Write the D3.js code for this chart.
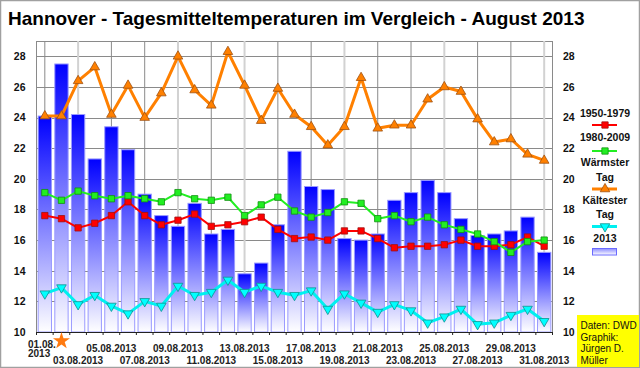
<!DOCTYPE html>
<html>
<head>
<meta charset="utf-8">
<script src="https://cdn.jsdelivr.net/npm/d3@7"></script>
<style>
  html, body { margin: 0; padding: 0; background: #fff; }
  svg { display: block; font-family: "Liberation Sans", Arial, sans-serif; }
</style>
</head>
<body>
<svg id="chart" width="640" height="368"></svg>
<script>
// ---------------- data ----------------
const dateLabels = ["01.08.2013","02.08.2013","03.08.2013","04.08.2013","05.08.2013","06.08.2013","07.08.2013","08.08.2013","09.08.2013","10.08.2013","11.08.2013","12.08.2013","13.08.2013","14.08.2013","15.08.2013","16.08.2013","17.08.2013","18.08.2013","19.08.2013","20.08.2013","21.08.2013","22.08.2013","23.08.2013","24.08.2013","25.08.2013","26.08.2013","27.08.2013","28.08.2013","29.08.2013","30.08.2013","31.08.2013"];
const values2013 = [24.1,27.5,24.2,21.3,23.4,21.9,19.0,17.6,16.9,18.4,16.4,16.7,13.8,14.5,17.0,21.8,19.5,19.3,16.1,16.0,16.4,18.6,19.1,19.9,19.1,17.4,16.3,16.4,16.6,17.5,15.2];
const mean1950 = [17.6,17.4,16.8,17.1,17.6,18.5,17.6,17.0,17.3,17.7,16.9,17.0,17.2,17.5,16.7,16.1,16.2,16.0,16.6,16.6,16.1,15.5,15.6,15.6,15.7,16.0,15.6,15.6,15.7,16.2,15.6];
const mean1980 = [19.1,18.6,19.2,18.9,18.7,18.9,18.7,18.5,19.1,18.7,18.6,18.8,17.6,18.3,18.8,17.9,17.5,17.8,18.5,18.4,17.4,17.6,17.2,17.5,17.0,16.7,16.4,15.9,15.2,15.9,16.0];
const warmest = [24.1,24.1,26.4,27.3,24.2,26.1,24.0,25.6,28.0,25.8,24.8,28.3,26.1,23.8,25.9,24.2,23.4,22.2,23.4,26.6,23.3,23.5,23.5,25.2,26.0,25.7,23.9,22.4,22.6,21.6,21.2];
const coldest = [12.5,12.9,11.8,12.4,11.7,11.2,12.0,11.7,13.0,12.4,12.6,13.4,12.6,13.0,12.6,12.4,12.7,11.5,12.5,11.9,11.3,11.8,11.4,10.6,11.0,11.5,10.5,10.6,11.1,11.5,10.7];
const yTicks = [10,12,14,16,18,20,22,24,26,28];
const legendLabels = [["1950-1979"],["1980-2009"],["Wärmster","Tag"],["Kältester","Tag"],["2013"]];
const creditLines = ["Daten: DWD","Graphik:","Jürgen D.","Müller"];
const titleText = "Hannover - Tagesmitteltemperaturen im Vergleich - August 2013";
const starDay = "02.08.2013";

// ---------------- layout ----------------
const W = 640, H = 368;
const plot = {left: 36.5, right: 552.5, top: 41, bottom: 332};
const svg = d3.select("#chart");

const x = d3.scaleBand().domain(dateLabels).range([plot.left, plot.right]).paddingInner(0.2).paddingOuter(0.1);
const xc = d => x(d) + x.bandwidth() / 2;
const band = (plot.right - plot.left) / dateLabels.length;
const y = d3.scaleLinear().domain([10, 29]).range([plot.bottom, plot.top]);

// background + outer border
svg.append("rect").attr("x", 0.5).attr("y", 0.5).attr("width", W - 1).attr("height", H - 1)
  .attr("fill", "#fff").attr("stroke", "#a0a0a0").attr("stroke-width", 1.5);

// title
svg.append("text").attr("x", 8).attr("y", 25).text(titleText)
  .attr("font-size", 19).attr("font-weight", "bold").attr("fill", "#000");

// defs: gradients
const defs = svg.append("defs");
const g1 = defs.append("linearGradient").attr("id", "barGrad").attr("x1", 0).attr("y1", 0).attr("x2", 0).attr("y2", 1);
g1.append("stop").attr("offset", "0%").attr("stop-color", "#0000ff");
g1.append("stop").attr("offset", "100%").attr("stop-color", "#ffffff");
const g2 = defs.append("linearGradient").attr("id", "legGrad").attr("x1", 0).attr("y1", 0).attr("x2", 0).attr("y2", 1);
g2.append("stop").attr("offset", "0%").attr("stop-color", "#8c8cff");
g2.append("stop").attr("offset", "100%").attr("stop-color", "#ffffff");

// horizontal grid
svg.append("g").selectAll("line").data(yTicks.concat([29])).join("line")
  .attr("x1", plot.left).attr("x2", plot.right)
  .attr("y1", d => Math.round(y(d)) + 0.5).attr("y2", d => Math.round(y(d)) + 0.5)
  .attr("stroke", "#8a8a8a").attr("stroke-width", 1);

// vertical grid at odd days
const lightDays = new Set([2, 8, 12, 18, 24, 30]); // indices drawn as light broad lines
svg.append("g").selectAll("line").data(dateLabels.filter((d, i) => i % 2 === 0)).join("line")
  .attr("x1", d => xc(d)).attr("x2", d => xc(d))
  .attr("y1", plot.top).attr("y2", plot.bottom)
  .attr("stroke", d => lightDays.has(dateLabels.indexOf(d)) ? "#d2d2d2" : "#8a8a8a")
  .attr("stroke-width", d => lightDays.has(dateLabels.indexOf(d)) ? 2 : 1);

// plot frame (left/right)
svg.append("line").attr("x1", plot.left).attr("x2", plot.left).attr("y1", plot.top).attr("y2", plot.bottom).attr("stroke", "#8a8a8a");
svg.append("line").attr("x1", plot.right).attr("x2", plot.right).attr("y1", plot.top).attr("y2", plot.bottom).attr("stroke", "#8a8a8a");

// bars
svg.append("g").selectAll("rect").data(values2013).join("rect")
  .attr("x", (d, i) => x(dateLabels[i]))
  .attr("width", x.bandwidth())
  .attr("y", d => y(d))
  .attr("height", d => plot.bottom - y(d))
  .attr("fill", "url(#barGrad)")
  .attr("stroke", "#9a9aff").attr("stroke-width", 1);

// x axis line + ticks
svg.append("line").attr("x1", plot.left).attr("x2", plot.right).attr("y1", plot.bottom + 0.5).attr("y2", plot.bottom + 0.5).attr("stroke", "#222");
svg.append("g").selectAll("line").data(d3.range(dateLabels.length + 1)).join("line")
  .attr("x1", i => plot.left + i * band).attr("x2", i => plot.left + i * band)
  .attr("y1", plot.bottom).attr("y2", plot.bottom + 3).attr("stroke", "#222");

// y axes
const leftAxis = d3.axisLeft(y).tickValues(yTicks).tickSize(0).tickPadding(11).tickFormat(d3.format("d"));
const rightAxis = d3.axisRight(y).tickValues(yTicks).tickSize(0).tickPadding(10.5).tickFormat(d3.format("d"));
const la = svg.append("g").attr("transform", `translate(${plot.left},0)`).call(leftAxis);
const ra = svg.append("g").attr("transform", `translate(${plot.right},0)`).call(rightAxis);
[la, ra].forEach(a => {
  a.select(".domain").remove();
  a.selectAll("text").attr("font-size", 10.5).attr("font-weight", "bold").attr("fill", "#111")
    .attr("font-family", "Liberation Sans, Arial, sans-serif");
});

// x labels
const xl = svg.append("g").attr("font-size", 10).attr("font-weight", "bold").attr("fill", "#222");
dateLabels.forEach((d, i) => {
  if (i % 2 !== 0) return;
  if (i === 0) {
    xl.append("text").attr("x", 28).attr("y", 347.5).text(d.slice(0, 6));
    xl.append("text").attr("x", 28).attr("y", 357).text(d.slice(6));
    return;
  }
  const row = (i / 2) % 2;
  xl.append("text").attr("x", xc(d)).attr("y", row === 1 ? 364 : 352)
    .attr("text-anchor", "middle").text(d);
});

// star
const star = d3.symbol().type(d3.symbolStar).size(90);
svg.append("path").attr("d", star()).attr("transform", `translate(${xc(starDay)},341)`)
  .attr("fill", "#ff7a10");

// lines
const lineGen = d3.line().x((d, i) => xc(dateLabels[i])).y(d => y(d));
function series(data, color, width, sym, symSize, fill, stroke, rot) {
  const g = svg.append("g");
  g.append("path").datum(data).attr("d", lineGen).attr("fill", "none")
    .attr("stroke", color).attr("stroke-width", width).attr("stroke-linejoin", "round");
  g.selectAll("path.m").data(data).join("path").attr("class", "m")
    .attr("d", d3.symbol().type(sym).size(symSize)())
    .attr("transform", (d, i) => `translate(${xc(dateLabels[i])},${y(d)}) rotate(${rot})`)
    .attr("fill", fill).attr("stroke", stroke).attr("stroke-width", 0.8);
}
series(mean1950, "#ff0000", 2, d3.symbolSquare, 40, "#ff0000", "#a01010", 0);
series(mean1980, "#22ee22", 2, d3.symbolSquare, 40, "#22ee22", "#109010", 0);
series(warmest, "#ff8000", 3, d3.symbolTriangle, 40, "#ff8000", "#a05010", 0);
series(coldest, "#00f0f0", 3, d3.symbolTriangle, 40, "#00ffff", "#109090", 180);

// legend
const lg = svg.append("g").attr("font-size", 10.5).attr("font-weight", "bold").attr("fill", "#111").attr("text-anchor", "middle");
const lx = 605;
const legendTextY = [[117], [140.5], [166, 180.5], [204, 217.5], [241.5]];
legendLabels.forEach((lines, k) => lines.forEach((t, j) => lg.append("text").attr("x", lx).attr("y", legendTextY[k][j]).text(t)));
function legendLine(yy, color, width, sym, fill, stroke, rot) {
  svg.append("line").attr("x1", 592).attr("x2", 617).attr("y1", yy).attr("y2", yy).attr("stroke", color).attr("stroke-width", width);
  svg.append("path").attr("d", d3.symbol().type(sym).size(40)()).attr("transform", `translate(${lx},${yy}) rotate(${rot})`)
    .attr("fill", fill).attr("stroke", stroke).attr("stroke-width", 0.8);
}
legendLine(125, "#ff0000", 2, d3.symbolSquare, "#ff0000", "#a01010", 0);
legendLine(151, "#22ee22", 2, d3.symbolSquare, "#22ee22", "#109010", 0);
legendLine(189, "#ff8000", 3, d3.symbolTriangle, "#ff8000", "#a05010", 0);
legendLine(226.5, "#00f0f0", 3, d3.symbolTriangle, "#00ffff", "#109090", 180);
svg.append("rect").attr("x", 592.5).attr("y", 248.5).attr("width", 24).attr("height", 6.5)
  .attr("fill", "url(#legGrad)").attr("stroke", "#6a6aff");

// credit box
svg.append("rect").attr("x", 577).attr("y", 315).attr("width", 62).attr("height", 52).attr("fill", "#ffff00");
const cg = svg.append("g").attr("font-size", 10).attr("fill", "#111");
creditLines.forEach((t, i) => cg.append("text").attr("x", 580.5).attr("y", 329 + i * 11.7).text(t));
</script>
</body>
</html>
